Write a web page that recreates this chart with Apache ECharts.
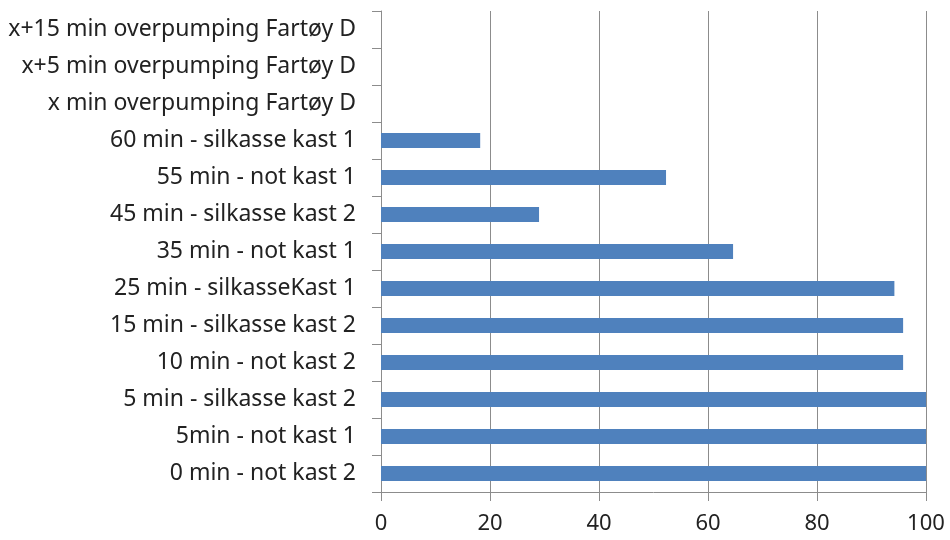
<!DOCTYPE html>
<html>
<head>
<meta charset="utf-8">
<script src="https://cdn.jsdelivr.net/npm/echarts@6/dist/echarts.min.js"></script>
<style>
  html, body { margin: 0; padding: 0; background: #fff; }
  #chart { width: 950px; height: 540px; }
</style>
</head>
<body>
<div id="chart"></div>
<script>
// Categories, listed bottom to top
const categories = [
  '0 min - not kast 2',
  '5min - not kast 1',
  '5 min - silkasse kast 2',
  '10 min - not kast 2',
  '15 min - silkasse kast 2',
  '25 min - silkasseKast 1',
  '35 min - not kast 1',
  '45 min - silkasse kast 2',
  '55 min - not kast 1',
  '60 min - silkasse kast 1',
  'x min overpumping Fartøy D',
  'x+5 min overpumping Fartøy D',
  'x+15 min overpumping Fartøy D'
];
const values = [100, 100, 100, 95.8, 95.8, 94.2, 64.6, 29.0, 52.3, 18.2, null, null, null];
const xTicks = { min: 0, max: 100, interval: 20 };

const chart = echarts.init(document.getElementById('chart'), null, { renderer: 'canvas' });
const font = '"Noto Sans", "Open Sans", sans-serif';
chart.setOption({
  animation: false,
  backgroundColor: '#ffffff',
  grid: { left: 381, right: 24, top: 11, bottom: 48, containLabel: false },
  xAxis: {
    type: 'value',
    min: xTicks.min, max: xTicks.max, interval: xTicks.interval,
    axisLine: { show: true, lineStyle: { color: '#8c8c8c', width: 1 } },
    axisTick: { show: true, length: 9, lineStyle: { color: '#8c8c8c' } },
    splitLine: { show: true, lineStyle: { color: '#8c8c8c', width: 1 } },
    axisLabel: { color: '#222222', fontSize: 22, fontFamily: font, margin: 21 }
  },
  yAxis: {
    type: 'category',
    data: categories,
    axisLine: { show: true, lineStyle: { color: '#8c8c8c', width: 1 } },
    axisTick: { show: true, length: 9, alignWithLabel: false, lineStyle: { color: '#8c8c8c' } },
    axisLabel: { color: '#222222', fontSize: 23, fontFamily: font, margin: 25 },
    splitLine: { show: false }
  },
  series: [{
    type: 'bar',
    data: values,
    barWidth: 15,
    itemStyle: { color: '#4f81bd' }
  }]
});
</script>
</body>
</html>
